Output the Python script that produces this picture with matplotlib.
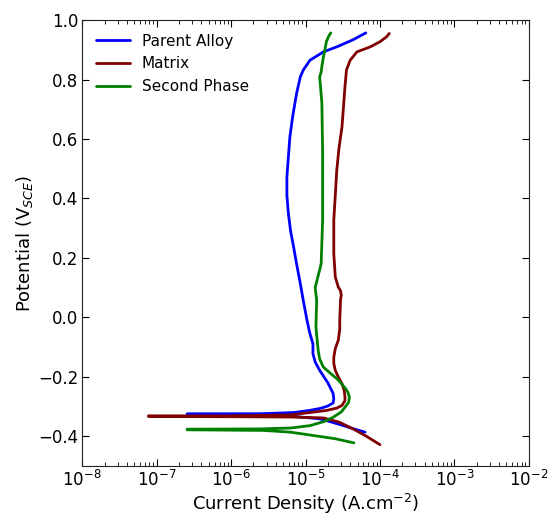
import numpy as np
import matplotlib
matplotlib.use("Agg")
import matplotlib.pyplot as plt
from matplotlib.ticker import LogLocator, MultipleLocator, NullFormatter

# Polarization curves: log10 current density (A/cm^2) vs potential (V vs SCE).
# Each trace runs from the end of the cathodic branch, through the
# corrosion potential, and up the anodic branch.
parent_logi = [-4.20, -4.35, -4.49, -4.65, -4.81, -5.20, -5.60, -6.59,
               -6.59, -5.61, -5.16, -4.95, -4.80, -4.70, -4.63, -4.62, -4.63,
               -4.70, -4.81, -4.87, -4.90, -4.90, -4.94, -4.98, -5.03, -5.07,
               -5.12, -5.16, -5.20, -5.23, -5.25, -5.25, -5.23, -5.21, -5.17,
               -5.12, -5.07, -5.03, -4.94, -4.76, -4.58, -4.36, -4.19]
parent_e = [-0.386, -0.375, -0.364, -0.352, -0.341, -0.332, -0.329, -0.327,
            -0.324, -0.324, -0.320, -0.313, -0.306, -0.298, -0.288, -0.274, -0.255,
            -0.220, -0.178, -0.150, -0.122, -0.089, -0.055, -0.010, 0.057, 0.114,
            0.180, 0.237, 0.290, 0.349, 0.410, 0.472, 0.540, 0.607, 0.680,
            0.753, 0.809, 0.832, 0.865, 0.893, 0.910, 0.934, 0.957]

matrix_logi = [-4.00, -4.18, -4.36, -4.55, -4.76, -5.20, -6.00, -7.11,
               -7.11, -6.00, -5.20, -4.72, -4.58, -4.51, -4.47, -4.47, -4.48,
               -4.51, -4.56, -4.60, -4.62, -4.62, -4.60, -4.56, -4.54, -4.54,
               -4.53, -4.52, -4.53, -4.56, -4.60, -4.62, -4.62, -4.60, -4.58,
               -4.55, -4.51, -4.47, -4.45, -4.40, -4.31, -4.13, -4.00, -3.91,
               -3.875]
matrix_e = [-0.428, -0.400, -0.375, -0.352, -0.338, -0.335, -0.334, -0.333,
            -0.331, -0.331, -0.328, -0.313, -0.305, -0.296, -0.280, -0.268, -0.245,
            -0.223, -0.200, -0.178, -0.155, -0.134, -0.105, -0.077, -0.040, -0.010,
            0.057, 0.075, 0.090, 0.102, 0.136, 0.214, 0.327, 0.410, 0.495,
            0.570, 0.641, 0.775, 0.832, 0.865, 0.893, 0.910, 0.927, 0.944,
            0.955]

second_logi = [-4.35, -4.60, -4.90, -5.20, -5.57, -6.10, -6.59,
               -6.59, -5.61, -5.20, -4.94, -4.75, -4.63, -4.52, -4.47, -4.42,
               -4.41, -4.43, -4.46, -4.52, -4.58, -4.68, -4.76, -4.81, -4.83,
               -4.86, -4.85, -4.87, -4.83, -4.79, -4.77, -4.77, -4.78, -4.80,
               -4.81, -4.79, -4.78, -4.76, -4.74, -4.72, -4.69, -4.66]
second_e = [-0.422, -0.408, -0.397, -0.386, -0.380, -0.379, -0.378,
            -0.376, -0.375, -0.372, -0.364, -0.350, -0.336, -0.318, -0.302, -0.285,
            -0.268, -0.252, -0.240, -0.222, -0.206, -0.185, -0.167, -0.140, -0.111,
            -0.033, 0.057, 0.100, 0.140, 0.180, 0.327, 0.551, 0.720, 0.780,
            0.809, 0.825, 0.845, 0.875, 0.899, 0.927, 0.945, 0.957]

series = [
    ("Parent Alloy", parent_logi, parent_e, "#0000ff"),
    ("Matrix", matrix_logi, matrix_e, "#800000"),
    ("Second Phase", second_logi, second_e, "#008000"),
]

fig = plt.figure(figsize=(5.48, 5.15), dpi=100)
ax = fig.add_axes([0.150, 0.095, 0.815, 0.866])

for name, logi, e, color in series:
    ax.plot(10.0 ** np.asarray(logi), e, color=color, lw=2, label=name,
            solid_joinstyle="round", solid_capstyle="round")

ax.set_xscale("log")
ax.set_xlim(1e-8, 1e-2)
ax.set_ylim(-0.5, 1.0)
ax.yaxis.set_major_locator(MultipleLocator(0.2))
ax.xaxis.set_major_locator(LogLocator(base=10, numticks=20))
ax.xaxis.set_minor_locator(LogLocator(base=10, subs=np.arange(2, 10), numticks=20))
ax.xaxis.set_minor_formatter(NullFormatter())

ax.tick_params(which="both", direction="in", top=True, right=True, labelsize=12)
ax.tick_params(which="major", length=5, pad=3)
ax.tick_params(which="minor", length=3)
for sp in ax.spines.values():
    sp.set_color("#222222")

ax.set_xlabel("Current Density (A.cm$^{-2}$)", fontsize=13, labelpad=1)
ax.set_ylabel("Potential (V$_{SCE}$)", fontsize=13, labelpad=2)
ax.legend(loc="upper left", frameon=False, fontsize=11, handlelength=2.2)

fig.savefig("out.png", dpi=100)
